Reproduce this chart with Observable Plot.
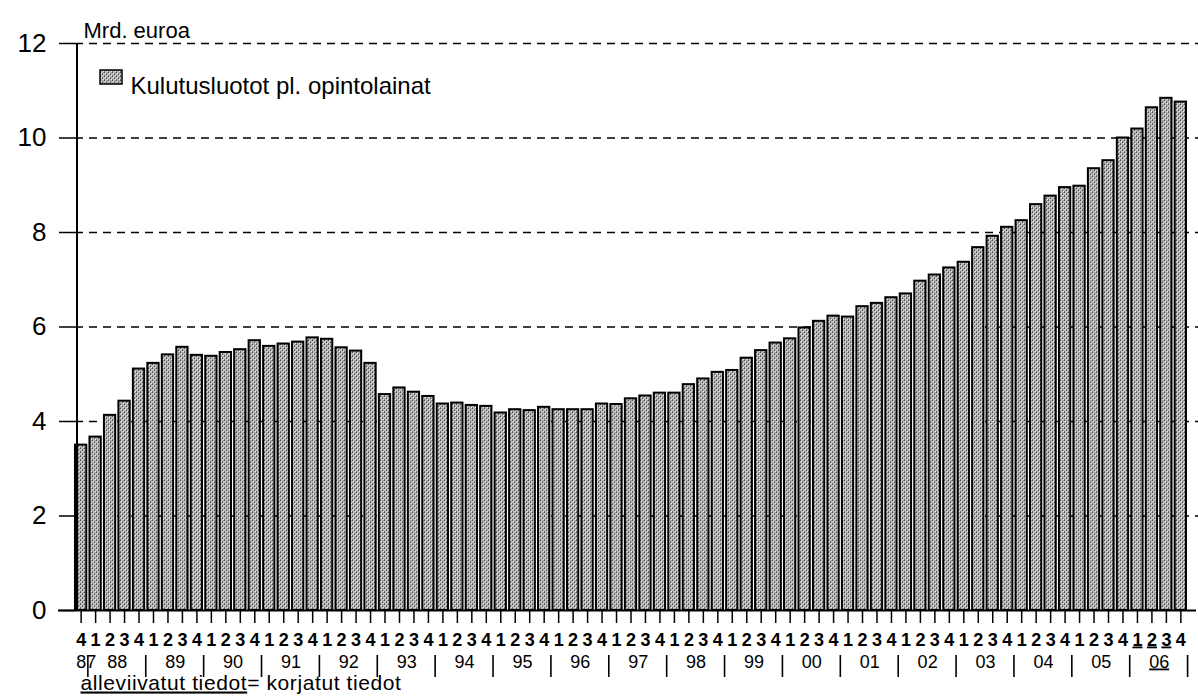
<!DOCTYPE html>
<html><head><meta charset="utf-8">
<script src="https://cdn.jsdelivr.net/npm/d3@7"></script>
<script src="https://cdn.jsdelivr.net/npm/@observablehq/plot@0.6"></script>
<style>body{margin:0;background:#fff}#chart{width:1198px;height:700px}</style>
</head><body><div id="chart"></div>
<script>
// ---- data ----
const years = ["87","88","89","90","91","92","93","94","95","96","97","98","99","00","01","02","03","04","05","06"];
const quarterNames = ["1","2","3","4"];
const firstYearQuarters = ["4"];
const values = [
  3.50,
  3.67, 4.13, 4.43, 5.11,
  5.23, 5.41, 5.57, 5.40,
  5.38, 5.46, 5.52, 5.71,
  5.59, 5.64, 5.68, 5.77,
  5.74, 5.56, 5.49, 5.23,
  4.57, 4.71, 4.62, 4.53,
  4.37, 4.39, 4.34, 4.32,
  4.18, 4.25, 4.23, 4.30,
  4.25, 4.25, 4.25, 4.37,
  4.36, 4.48, 4.54, 4.60,
  4.60, 4.78, 4.90, 5.04,
  5.08, 5.34, 5.50, 5.66,
  5.75, 5.98, 6.12, 6.23,
  6.21, 6.43, 6.50, 6.62,
  6.70, 6.97, 7.10, 7.25,
  7.37, 7.68, 7.92, 8.11,
  8.25, 8.59, 8.77, 8.95,
  8.98, 9.35, 9.52, 10.00,
  10.19, 10.64, 10.84, 10.76
];
const revisedPeriods = ["06-1","06-2","06-3"];
const revisedYears = ["06"];
const yTicks = [0, 2, 4, 6, 8, 10, 12];
const unitLabel = "Mrd. euroa";
const seriesName = "Kulutusluotot pl. opintolainat";
const footnoteUnderlined = "alleviivatut tiedot";
const footnoteRest = "= korjatut tiedot";

// ---- derived tables ----
const periods = [];
years.forEach((y, i) => (i === 0 ? firstYearQuarters : quarterNames)
  .forEach(q => periods.push({year: y, q, key: y + "-" + q})));
const data = periods.map((p, i) => ({...p, value: values[i]}));
const keys = data.map(d => d.key);

const W = 1198, H = 700, mL = 75, mR = 12, mT = 43, mB = 90;
const padIn = 0.22;
const step = (W - mL - mR) / (keys.length - padIn);

const firstYear = years[0];
const yearRows = years.map((y, i) => ({year: y, key: i === 0 ? y + "-4" : y + "-2"}));
const sepKeys = years.map(y => y + "-4");

const font = '"Liberation Sans", Arial, Helvetica, sans-serif';

const defsMark = () => {
  const defs = d3.create("svg:defs");
  const p = defs.append("pattern").attr("id", "stipple")
    .attr("patternUnits", "userSpaceOnUse").attr("width", 4).attr("height", 4);
  p.append("rect").attr("width", 4).attr("height", 4).attr("fill", "#b9b9b9");
  [[0,0,"#4e4e4e"],[2,2,"#4e4e4e"],[2,1,"#7a7a7a"],[0,3,"#7a7a7a"],[3,3,"#eaeaea"],[1,1,"#eaeaea"],[3,0,"#999"]]
    .forEach(([x, y, c]) => p.append("rect").attr("x", x).attr("y", y).attr("width", 1).attr("height", 1).attr("fill", c));
  return defs.node();
};

const axisLineMark = (index, scales, values, dims) => d3.create("svg:line")
  .attr("x1", dims.marginLeft + 2).attr("x2", dims.marginLeft + 2)
  .attr("y1", scales.y(12)).attr("y2", scales.y(0))
  .attr("stroke", "black").attr("stroke-width", 2).node();

// year separators below the quarter labels, placed via the x scale
const separatorMark = (index, scales, values, dims) => {
  const g = d3.create("svg:g").attr("stroke", "black").attr("stroke-width", 1.6);
  const bw = scales.x.bandwidth();
  const yb = dims.height - dims.marginBottom;
  sepKeys.forEach(k => {
    const x = scales.x(k) + bw / 2 + step / 2;
    g.append("line").attr("x1", x).attr("x2", x).attr("y1", yb + 45).attr("y2", yb + 67);
  });
  return g.node();
};

const swatchMark = (index, scales, values, dims) => d3.create("svg:rect")
  .attr("x", dims.marginLeft + 25).attr("y", dims.marginTop + 27)
  .attr("width", 22).attr("height", 14)
  .attr("fill", "url(#stipple)").attr("stroke", "black").attr("stroke-width", 1.5).node();

const chart = Plot.plot({
  width: W, height: H,
  marginLeft: mL, marginRight: mR, marginTop: mT, marginBottom: mB,
  style: {fontFamily: font, color: "black", background: "white", overflow: "visible"},
  x: {type: "band", domain: keys, paddingInner: padIn, paddingOuter: 0},
  y: {domain: [0, 12]},
  marks: [
    defsMark,
    Plot.ruleY(yTicks.filter(d => d > 0), {stroke: "black", strokeWidth: 1.4, strokeDasharray: "8,6", insetRight: -12}),
    Plot.barY(data, {x: "key", y: "value", fill: "url(#stipple)", stroke: "black", strokeWidth: 2}),
    Plot.ruleY([0], {stroke: "black", strokeWidth: 2, insetLeft: -17, insetRight: -10}),
    axisLineMark,
    Plot.axisY({ticks: yTicks, tickSize: 16, tickPadding: 13, fontSize: 26, label: null, strokeWidth: 1.5}),
    Plot.axisX({tickSize: 13, tickFormat: () => "", label: null, strokeWidth: 1.5}),
    Plot.text(data.filter(d => !revisedPeriods.includes(d.key)), {x: "key", text: "q", frameAnchor: "bottom", dy: 35, fontSize: 18, fontWeight: "bold"}),
    Plot.text(data.filter(d => revisedPeriods.includes(d.key)), {x: "key", text: "q", frameAnchor: "bottom", dy: 35, fontSize: 18, fontWeight: "bold", ariaDescription: "underlined"}),
    separatorMark,
    Plot.text(yearRows.filter(d => d.year !== firstYear && !revisedYears.includes(d.year)), {x: "key", text: "year", frameAnchor: "bottom", dy: 57, dx: step / 2, fontSize: 18}),
    Plot.text(yearRows.filter(d => d.year === firstYear), {x: "key", text: "year", frameAnchor: "bottom", dy: 57, dx: 5, fontSize: 18}),
    Plot.text(yearRows.filter(d => revisedYears.includes(d.year)), {x: "key", text: "year", frameAnchor: "bottom", dy: 57, dx: step / 2, fontSize: 18, ariaDescription: "underlined"}),
    Plot.text([unitLabel], {frameAnchor: "top-left", dx: 8, dy: -21, fontSize: 22, textAnchor: "start"}),
    swatchMark,
    Plot.text([seriesName], {frameAnchor: "top-left", dx: 55, dy: 33, fontSize: 24, textAnchor: "start"}),
    Plot.text([footnoteUnderlined + footnoteRest], {frameAnchor: "bottom-left", dx: 5, dy: 79, fontSize: 21, textAnchor: "start", ariaDescription: "footnote"})
  ]
});

const svg = d3.select(chart);
svg.selectAll('g[aria-description="underlined"] text').style("text-decoration", "underline");
const fn = svg.select('g[aria-description="footnote"] text');
fn.style("letter-spacing", "0.6px");
fn.text(null);
fn.append("tspan").style("text-decoration", "underline").text(footnoteUnderlined);
fn.append("tspan").text(footnoteRest);
document.getElementById("chart").append(chart);
</script>
</body></html>
